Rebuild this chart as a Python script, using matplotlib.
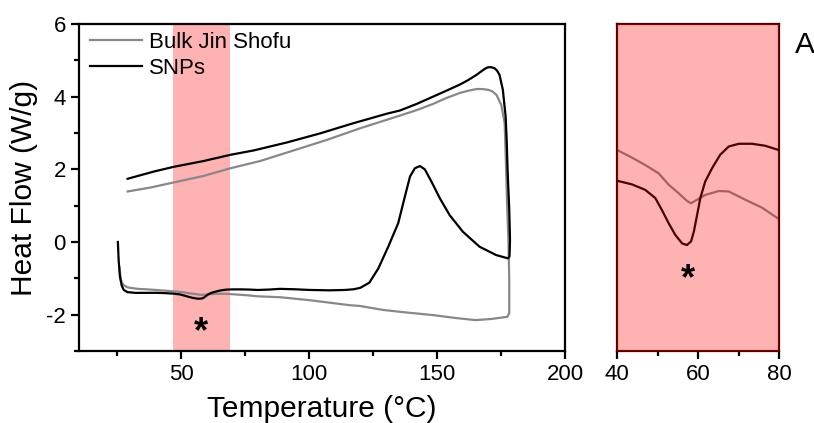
import matplotlib
matplotlib.use("Agg")
import matplotlib.pyplot as plt
from matplotlib.ticker import MultipleLocator

plt.rcParams['font.family'] = ['Liberation Sans', 'DejaVu Sans']
plt.rcParams['axes.unicode_minus'] = False

# DSC thermogram of the SNPs sample: heating run, then the return branch
snp_temp = [25.2, 25.5, 26.0, 26.7, 27.5, 29.0, 32, 36, 40.0, 43.6, 46.9, 49.4, 51.0, 52.7,
            54.3, 56.0, 57.2, 58.2, 58.9, 59.7, 60.5, 61.7, 63.4, 65.4, 67.5, 70.0, 73.3,
            76.5, 79.9, 84, 88.6, 94, 100.2, 108, 114, 117.5, 120, 123.5, 127.0, 130.9,
            134.8, 137.4, 139.4, 141.3, 143.3, 145.2, 147.8, 151.1, 154.9, 160.1, 166.6,
            173.1, 177.7, 178.3, 178.5, 178.2, 177.6, 177.2, 176.8, 176.2, 175.7, 174.4,
            173.4, 172.5, 171.2, 169.9, 168.5, 165.4, 162, 158.8, 153.5, 148.4, 142, 135.5,
            130.3, 117.3, 104.3, 91.3, 78.3, 69.2, 58.8, 47.1, 39.3, 29.0]
snp_flow = [0.0, -0.5, -0.95, -1.2, -1.32, -1.38, -1.40, -1.40, -1.398, -1.407, -1.421,
            -1.442, -1.472, -1.506, -1.535, -1.557, -1.561, -1.552, -1.527, -1.485, -1.442,
            -1.400, -1.366, -1.332, -1.311, -1.304, -1.304, -1.309, -1.320, -1.31, -1.29,
            -1.30, -1.32, -1.33, -1.32, -1.30, -1.26, -1.12, -0.73, -0.13, 0.52, 1.25, 1.80,
            2.03, 2.09, 2.00, 1.66, 1.20, 0.74, 0.28, -0.13, -0.36, -0.45, -0.40, 0.06, 0.9,
            1.89, 2.8, 3.45, 3.85, 4.19, 4.60, 4.72, 4.78, 4.81, 4.81, 4.76, 4.60, 4.45,
            4.33, 4.16, 4.00, 3.80, 3.62, 3.53, 3.27, 2.99, 2.74, 2.52, 2.40, 2.23, 2.07,
            1.94, 1.74]

# DSC thermogram of bulk Jin Shofu
bulk_temp = [25.8, 26.4, 27.3, 29.0, 33, 36, 40.0, 43.6, 46.9, 50.2, 52.7, 55.2, 57.2, 58.2,
             59.7, 61.7, 65.0, 67.5, 71.6, 75.7, 79.9, 88.6, 100, 115.9, 119.8, 128.9, 138,
             148.2, 157, 165.0, 171, 177.4, 178.2, 178.2, 177.9, 177.4, 176.9, 176.4, 175.1,
             173.2, 171.5, 169.9, 167.5, 165.4, 162, 158.8, 153.5, 148.4, 142, 135.5, 119.9,
             106.9, 93.9, 80.9, 69.2, 58.8, 45.8, 38, 29.0]
bulk_flow = [-0.7, -1.05, -1.18, -1.25, -1.29, -1.30, -1.320, -1.339, -1.358, -1.379, -1.408,
             -1.430, -1.449, -1.455, -1.446, -1.434, -1.424, -1.425, -1.446, -1.466, -1.495,
             -1.52, -1.60, -1.74, -1.76, -1.87, -1.94, -2.01, -2.09, -2.15, -2.12, -2.06,
             -1.96, -1.0, 0.0, 0.97, 2.2, 3.27, 3.77, 4.05, 4.15, 4.19, 4.21, 4.21, 4.16,
             4.10, 3.96, 3.80, 3.63, 3.48, 3.13, 2.81, 2.52, 2.23, 2.03, 1.82, 1.62, 1.50,
             1.39]

series_labels = ['Bulk Jin Shofu', 'SNPs']
band_range = (46.7, 69.2)
peak_temp = 57.5

W, H = 814, 423
fig = plt.figure(figsize=(W / 100, H / 100), dpi=100)

def frac(l, r, t, b):
    return [l / W, 1 - b / H, (r - l) / W, (b - t) / H]

ax = fig.add_axes(frac(79, 565, 24, 351))
ins = fig.add_axes(frac(617.3, 779.3, 24, 351))

lw = 1.6
grey = '#888888'

# main panel
ax.axvspan(*band_range, color='red', alpha=0.3, lw=0, zorder=0)
ax.plot(bulk_temp, bulk_flow, color=grey, lw=lw, label=series_labels[0], zorder=2)
ax.plot(snp_temp, snp_flow, color='black', lw=lw, label=series_labels[1], zorder=3)
ax.text(peak_temp, -2.76, '*', fontsize=26, fontweight='bold', ha='center', va='baseline')

ax.set_xlim(10, 200)
ax.set_ylim(-3, 6)
ax.xaxis.set_major_locator(MultipleLocator(50))
ax.xaxis.set_minor_locator(MultipleLocator(25))
ax.yaxis.set_major_locator(MultipleLocator(2))
ax.yaxis.set_minor_locator(MultipleLocator(1))
ax.set_xlabel('Temperature (°C)', fontsize=21.5, labelpad=7)
ax.set_ylabel('Heat Flow (W/g)', fontsize=21.5, labelpad=6)

leg = ax.legend(loc='upper left', bbox_to_anchor=(0.022, 0.975), frameon=False,
                fontsize=16, handlelength=2.35, handletextpad=0.3, labelspacing=0.2,
                borderpad=0, borderaxespad=0)

# zoomed panel around the transition, tinted by a translucent red overlay
ins.plot(bulk_temp, bulk_flow, color=grey, lw=lw, zorder=2)
ins.plot(snp_temp, snp_flow, color='black', lw=lw, zorder=3)
ins.set_xlim(40, 80)
ins.set_ylim(-1.83, -1.0)
ins.axvspan(40, 80, color='red', alpha=0.3, lw=0, zorder=5)
ins.text(peak_temp, -1.672, '*', fontsize=26, fontweight='bold', ha='center',
         va='baseline', zorder=6)
ins.xaxis.set_major_locator(MultipleLocator(20))
ins.xaxis.set_minor_locator(MultipleLocator(10))
ins.set_yticks([])

for a in (ax, ins):
    for s in a.spines.values():
        s.set_linewidth(1.6)
    a.tick_params(which='both', direction='out', width=1.6, labelsize=16,
                  top=False, right=False, colors='black')
    a.tick_params(which='major', length=6)
    a.tick_params(which='minor', length=3.5)
for s in ins.spines.values():
    s.set_edgecolor('#4d0000')

fig.text(795 / W, 1 - 53 / H, 'A', fontsize=21.5, ha='left', va='baseline')

fig.savefig('out.png', dpi=100)
